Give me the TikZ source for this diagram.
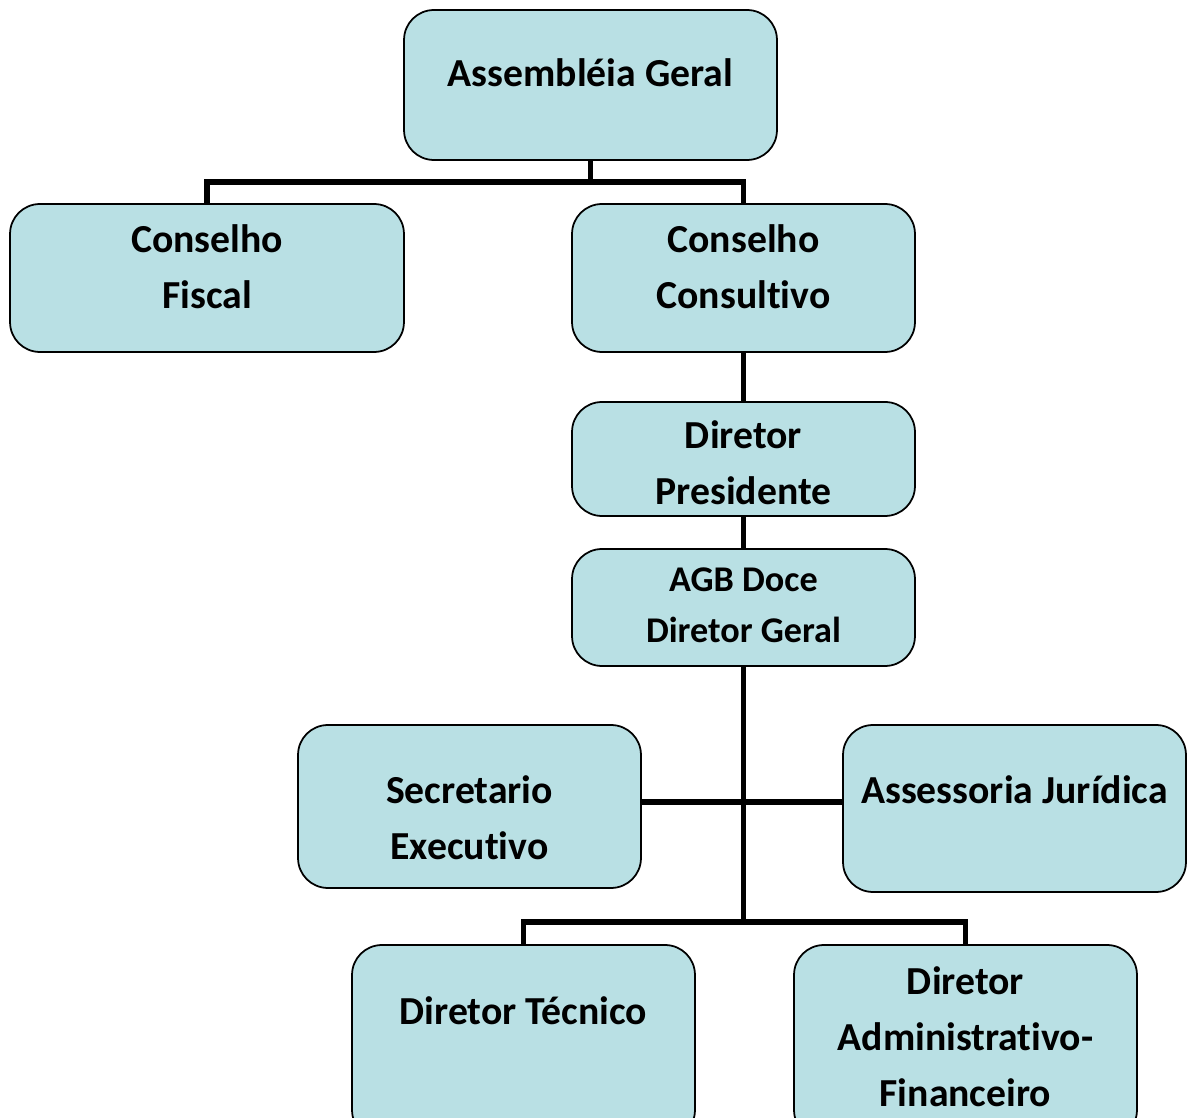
\documentclass[tikz,border=0pt]{standalone}
\usepackage{fontspec}
\setmainfont[Ligatures=NoCommon]{Carlito}
\definecolor{boxfill}{RGB}{185,224,228}
\begin{document}
\begin{tikzpicture}[x=0.02cm, y=-0.02cm,
    box/.style={draw=black, line width=1pt, fill=boxfill, rounded corners=17pt, inner sep=0pt},
    link/.style={line width=3.1pt, black},
    txt/.style={align=center, font=\fontsize{22.6}{31.8}\selectfont\bfseries}]
    \useasboundingbox (0,0) rectangle (1188,1118);
    \clip (0,0) rectangle (1188,1118);

    % boxes
    \node[box, minimum width=7.46cm, minimum height=3.00cm] (assembleia) at (590.5,85) {};
    \node[box, minimum width=7.88cm, minimum height=2.96cm] (fiscal) at (207,278) {};
    \node[box, minimum width=6.86cm, minimum height=2.96cm] (consultivo) at (743.5,278) {};
    \node[box, minimum width=6.86cm, minimum height=2.28cm] (presidente) at (743.5,459) {};
    \node[box, minimum width=6.86cm, minimum height=2.34cm] (geral) at (743.5,607.5) {};
    \node[box, minimum width=6.86cm, minimum height=3.26cm] (secretario) at (469.5,806.5) {};
    \node[box, minimum width=6.86cm, minimum height=3.34cm] (juridica) at (1014.5,808.5) {};
    \node[box, minimum width=6.86cm, minimum height=3.90cm] (tecnico) at (523.5,1042.5) {};
    \node[box, minimum width=6.86cm, minimum height=3.90cm] (financeiro) at (965.5,1042.5) {};

    % texts
    \node[txt] (tassembleia) at (590.5,73) {Assembléia Geral};
    \node[txt] (tfiscal) at (207,266.5) {Conselho\\Fiscal};
    \node[txt] (tconsultivo) at (743.5,266.5) {Conselho\\Consultivo};
    \node[txt] (tpresidente) at (743.5,462.5) {Diretor\\Presidente};
    \node[txt, font=\fontsize{20.6}{28.9}\selectfont\bfseries] (tgeral) at (743.5,605.5) {AGB Doce\\Diretor Geral};
    \node[txt] (tsecretario) at (469.5,818) {Secretario\\Executivo};
    \node[txt] (tjuridica) at (1014.5,790) {Assessoria Jurídica};
    \node[txt] (ttecnico) at (523.5,1011) {Diretor Técnico};
    \node[txt] (tfinanceiro) at (965.5,1037) {Diretor\\Administrativo-\\Financeiro};

    % connectors
    \coordinate (top) at (590.5,182);
    \coordinate (mid) at (743.5,802);
    \coordinate (low) at (743.5,922);
    \draw[link] (assembleia.south) -- (top);
    \draw[link] (fiscal.north) |- (top);
    \draw[link] (consultivo.north) |- (top);
    \draw[link] (consultivo.south) -- (presidente.north);
    \draw[link] (presidente.south) -- (geral.north);
    \draw[link] (geral.south) -- (low);
    \draw[link] (secretario.east |- mid) -- (juridica.west |- mid);
    \draw[link] (tecnico.north) |- (low) -| (financeiro.north);
\end{tikzpicture}
\end{document}
